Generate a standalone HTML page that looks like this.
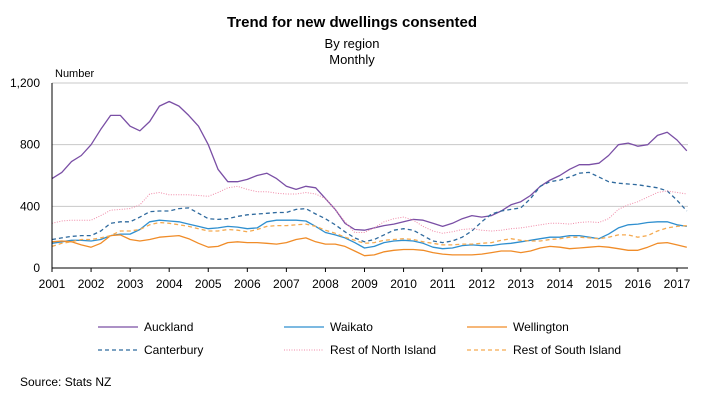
<!DOCTYPE html>
<html><head><meta charset="utf-8"><style>
body{margin:0;background:#fff;font-family:"Liberation Sans",sans-serif;}
svg text{font-family:"Liberation Sans",sans-serif;}
</style></head><body>
<svg id="c" width="704" height="406" viewBox="0 0 704 406">
<text x="352" y="27" text-anchor="middle" font-size="15" font-weight="bold">Trend for new dwellings consented</text>
<text x="352" y="48" text-anchor="middle" font-size="13">By region</text>
<text x="352" y="64" text-anchor="middle" font-size="13">Monthly</text>
<text x="55" y="77" font-size="11">Number</text>
<g id="grid"></g><g id="series"></g><g id="axes"></g>
<text x="20" y="386" font-size="12">Source: Stats NZ</text>
</svg>
<script>
const years=[2001,2002,2003,2004,2005,2006,2007,2008,2009,2010,2011,2012,2013,2014,2015,2016,2017];
const yTicks=[0,400,800,1200];
const yTickLabels=["0","400","800","1,200"];
const seriesNames=["Auckland","Waikato","Wellington","Canterbury","Rest of North Island","Rest of South Island"];
const auckland=[580,620,690,730,800,900,990,990,920,890,950,1050,1080,1050,990,920,800,640,560,560,575,600,615,580,530,510,530,520,450,380,290,250,245,260,275,285,300,315,310,290,270,290,320,340,330,340,370,410,430,470,530,570,600,640,670,670,680,730,800,810,790,800,860,880,830,760];
const waikato=[160,170,180,180,175,185,210,220,220,250,300,310,305,300,285,270,255,260,270,265,255,260,300,310,310,310,305,270,230,215,195,165,130,140,165,175,180,175,160,135,125,130,145,150,145,145,155,160,170,180,190,200,200,210,210,200,190,220,260,280,285,295,300,300,280,270];
const wellington=[170,175,170,150,135,160,210,215,185,175,185,200,205,210,190,160,135,140,165,170,165,165,160,155,165,185,195,170,155,155,140,110,80,85,105,115,120,120,115,100,90,85,85,85,90,100,110,110,100,110,130,140,135,125,130,135,140,135,125,115,115,135,160,165,150,135];
const canterbury=[185,195,205,210,210,240,290,300,300,330,365,370,370,385,390,355,320,315,320,335,345,350,355,360,360,380,385,350,320,280,235,195,170,185,215,245,255,245,210,175,165,175,200,240,300,350,370,380,390,450,530,560,570,590,615,620,590,560,550,545,540,530,520,500,440,370];
const restNorth=[290,305,310,310,310,340,375,380,385,410,480,490,475,475,475,470,465,490,520,530,510,495,495,485,480,480,490,480,450,380,300,230,230,260,300,320,330,310,270,240,225,235,250,255,245,240,245,255,260,270,280,290,290,285,295,300,295,320,380,410,430,460,490,500,490,480];
const restSouth=[140,160,170,185,185,195,210,240,240,250,280,295,290,280,270,255,240,240,250,245,235,250,270,275,275,280,285,270,245,225,200,180,160,165,180,185,190,185,170,160,150,150,155,155,160,165,180,190,180,175,175,185,190,200,200,195,190,200,215,215,200,210,240,260,270,275];
const NS="http://www.w3.org/2000/svg";
const x0=52,x1=677,y0=268,yTop=83;
const xs=t=>x0+(t-2001)*(x1-x0)/16;
const ys=v=>y0-v*(y0-yTop)/1200;
function mk(tag,attrs,parent){const e=document.createElementNS(NS,tag);for(const k in attrs)e.setAttribute(k,attrs[k]);parent.appendChild(e);return e;}
const grid=document.getElementById('grid'),axes=document.getElementById('axes'),sg=document.getElementById('series'),svg=document.getElementById('c');
yTicks.forEach((v,i)=>{
 if(v>0){const g=mk('line',{x1:x0,x2:688,y1:ys(v),y2:ys(v),stroke:'#c8c8c8','stroke-width':1},grid);
 
 }
 const t=mk('text',{x:40,y:ys(v)+4,'text-anchor':'end','font-size':12},axes);t.textContent=yTickLabels[i];
 
 
});
const ya=mk('line',{x1:x0,x2:x0,y1:yTop,y2:y0,stroke:'#000'},axes);


const xa=mk('line',{x1:x0,x2:688,y1:y0,y2:y0,stroke:'#000'},axes);


years.forEach(yr=>{
 const tk=mk('line',{x1:xs(yr),x2:xs(yr),y1:y0,y2:y0+4,stroke:'#000'},axes);
 
 
 const t=mk('text',{x:xs(yr),y:288,'text-anchor':'middle','font-size':12},axes);t.textContent=yr;
 
 
});
const styles=[
 {d:auckland,c:'#7a4fa5',da:'',w:1.3},
 {d:waikato,c:'#2f8fcf',da:'',w:1.3},
 {d:wellington,c:'#f08c28',da:'',w:1.3},
 {d:canterbury,c:'#2f6a9e',da:'4,3',w:1.3},
 {d:restNorth,c:'#f08aa8',da:'1,1.5',w:1},
 {d:restSouth,c:'#f5aa50',da:'4,3',w:1.3}];
styles.forEach((s,i)=>{
 const pts=s.d.map((v,j)=>xs(2001+j*0.25).toFixed(1)+','+ys(v).toFixed(1)).join(' ');
 const p=mk('polyline',{points:pts,fill:'none',stroke:s.c,'stroke-width':s.w,'stroke-dasharray':s.da,'stroke-linejoin':'round'},sg);
 
 
 const col=i%3,row=Math.floor(i/3);
 const lx=[98,284,467][col],ly=[327,350][row];
 const ls=mk('line',{x1:lx,x2:lx+40,y1:ly,y2:ly,stroke:s.c,'stroke-width':s.w,'stroke-dasharray':s.da},svg);
 
 
 const lt=mk('text',{x:lx+46,y:ly+4,'font-size':12},svg);lt.textContent=seriesNames[i];
 
 
});
</script>
</body></html>
